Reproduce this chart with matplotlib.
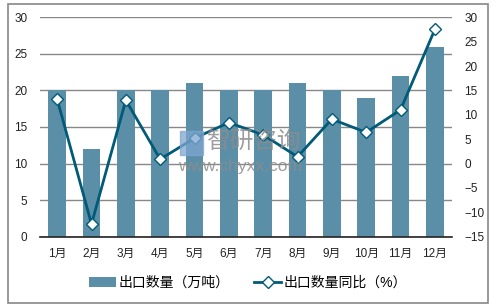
import matplotlib
matplotlib.use("Agg")
import matplotlib.pyplot as plt
from matplotlib.patches import Rectangle

plt.rcParams['font.family'] = ['Liberation Sans', 'Noto Sans CJK SC', 'DejaVu Sans']

# data
months = ['1月', '2月', '3月', '4月', '5月', '6月', '7月', '8月', '9月', '10月', '11月', '12月']
export_qty = [20, 12, 20, 20, 21, 20, 20, 21, 20, 19, 22, 26]
export_yoy = [13.2, -12.4, 13.0, 0.9, 5.2, 8.4, 5.9, 1.4, 9.1, 6.4, 11.0, 27.5]

bar_color = '#5b8fa8'
line_color = '#005a78'

fig = plt.figure(figsize=(4.96, 3.07), dpi=100)
fig.patches.append(Rectangle((8 / 496, 4 / 307), 480 / 496, 299 / 307,
                             transform=fig.transFigure, fill=False,
                             edgecolor='#888888', linewidth=1.2))

ax = fig.add_axes([40 / 496, 1 - 236.7 / 307, 412 / 496, 219.4 / 307])
x = range(len(months))
bars = ax.bar(x, export_qty, width=0.51, color=bar_color, zorder=2,
              label='出口数量（万吨）')
ax.set_ylim(0, 30)
ax.set_yticks(range(0, 31, 5))
ax.set_xlim(-0.5, len(months) - 0.5)
ax.set_xticks(list(x))
ax.set_xticklabels(months)
ax.grid(axis='y', color='#888888', linewidth=1, zorder=0)
ax.set_axisbelow(True)
for s in ['top', 'right', 'left']:
    ax.spines[s].set_visible(False)
ax.spines['bottom'].set_color('#222222')
ax.spines['bottom'].set_linewidth(1.2)
ax.tick_params(axis='both', length=0, labelsize=8.5, colors='#222222')
ax.tick_params(axis='y', pad=9)
ax.tick_params(axis='x', pad=8)

ax2 = ax.twinx()
line, = ax2.plot(x, export_yoy, color=line_color, linewidth=2,
                 marker='D', markersize=6.5, markerfacecolor='white',
                 markeredgecolor=line_color, markeredgewidth=1,
                 label='出口数量同比（%）', zorder=3)
ax2.set_ylim(-15, 30)
ax2.set_yticks(range(-15, 31, 5))
for s in ['top', 'right', 'left', 'bottom']:
    ax2.spines[s].set_visible(False)
ax2.tick_params(axis='y', length=0, labelsize=8.5, colors='#222222', pad=9)

# watermark
fig.patches.append(Rectangle((180 / 496, 1 - 155 / 307), 23 / 496, 24 / 307,
                             transform=fig.transFigure, color='#7fa6d0',
                             alpha=0.75, zorder=5))
fig.text(206 / 496, 1 - 142 / 307, '智研咨询', fontsize=17, color='#8c8c8c',
         alpha=0.85, family=['Noto Sans CJK SC'], ha='left', va='center')
fig.text(178 / 496, 1 - 167 / 307, 'www.chyxx.com', fontsize=12.5,
         color='#8c8c8c', alpha=0.85, ha='left', va='center')

fig.legend([bars, line], ['出口数量（万吨）', '出口数量同比（%）'],
           loc='center', bbox_to_anchor=(0.5, 1 - 283 / 307), ncol=2,
           frameon=False, fontsize=10, handlelength=1.9, columnspacing=1.8,
           handletextpad=0.2)

fig.savefig('out.png', dpi=100)
